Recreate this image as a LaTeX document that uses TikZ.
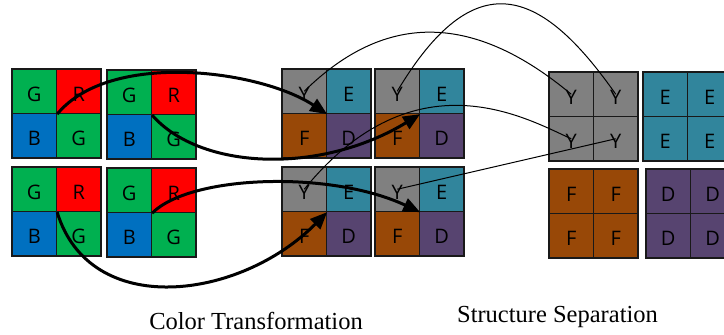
\documentclass[tikz,border=0pt]{standalone}
\usepackage{fontspec}
\setmainfont{Liberation Serif}
\newfontfamily\cellfont{Open Sans}
\usetikzlibrary{arrows.meta}

% channel colours
\definecolor{colG}{HTML}{00B050}
\definecolor{colR}{HTML}{FF0000}
\definecolor{colB}{HTML}{0070C0}
\definecolor{colY}{HTML}{808080}
\definecolor{colE}{HTML}{31859C}
\definecolor{colF}{HTML}{984807}
\definecolor{colD}{HTML}{574470}

\tikzset{
  cell/.style={draw=black!90, line width=1.3pt, minimum size=44.5pt, inner sep=0pt,
    text height=19.9pt, text depth=0pt,
    font=\cellfont\fontsize{20}{22}\selectfont},
  thickflow/.style={line width=3pt, -{Triangle[length=17pt,width=14pt]}},
  thinflow/.style={line width=1pt},
  caption/.style={font=\fontsize{24.5}{28}\selectfont, anchor=base, inner sep=0pt}
}

% a 2x2 block of cells: name, left, top, then the four letters (TL, TR, BL, BR)
\newcommand\quadblock[7]{%
  \node[cell,fill=col#4] (#1-tl) at (#2+22.25,#3+22.25) {#4};
  \node[cell,fill=col#5] (#1-tr) at (#2+66.75,#3+22.25) {#5};
  \node[cell,fill=col#6] (#1-bl) at (#2+22.25,#3+66.75) {#6};
  \node[cell,fill=col#7] (#1-br) at (#2+66.75,#3+66.75) {#7};
}

\begin{document}
\begin{tikzpicture}[x=1pt,y=-1pt]
  \useasboundingbox (0,0) rectangle (724,335);
  \clip (0,0) rectangle (724,335);

  % Bayer blocks
  \quadblock{b1}{12}{69}{G}{R}{B}{G}
  \quadblock{b2}{107}{70}{G}{R}{B}{G}
  \quadblock{b3}{12}{167}{G}{R}{B}{G}
  \quadblock{b4}{107}{168}{G}{R}{B}{G}

  % transformed blocks
  \quadblock{c1}{282}{69}{Y}{E}{F}{D}
  \quadblock{c2}{375}{69}{Y}{E}{F}{D}
  \quadblock{c3}{282}{167}{Y}{E}{F}{D}
  \quadblock{c4}{375}{167}{Y}{E}{F}{D}

  % separated planes
  \quadblock{ys}{549}{72}{Y}{Y}{Y}{Y}
  \quadblock{es}{643}{72}{E}{E}{E}{E}
  \quadblock{fs}{549}{169}{F}{F}{F}{F}
  \quadblock{ds}{646}{169}{D}{D}{D}{D}

  % colour transformation
  \draw[thickflow] (b1-tl.south east) .. controls (110,50) and (260,70) .. (c1-tl.south east);
  \draw[thickflow] (b2-tl.south east) .. controls (200,170) and (320,175) .. (c2-tl.south east);
  \draw[thickflow] (b4-tl.south east) .. controls (190,175) and (330,170) .. (c4-tl.south east);
  \draw[thickflow] (b3-tl.south east) .. controls (90,320) and (240,300) .. (c3-tl.south east);

  % structure separation of the Y samples
  \draw[thinflow] (c1-tl.center) .. controls (387,10) and (475,14) .. (ys-tl.center);
  \draw[thinflow] (c2-tl.center) .. controls (474,-37) and (540,-14) .. (ys-tr.center);
  \draw[thinflow] (c3-tl.center) .. controls (415,53) and (527,119) .. (ys-bl.center);
  \draw[thinflow] (c4-tl.center) -- (ys-br.center);

  % captions
  \node[caption] (lab1) at (256,329.3) {Color Transformation};
  \node[caption] (lab2) at (557.5,322.7) {Structure Separation};
\end{tikzpicture}
\end{document}
